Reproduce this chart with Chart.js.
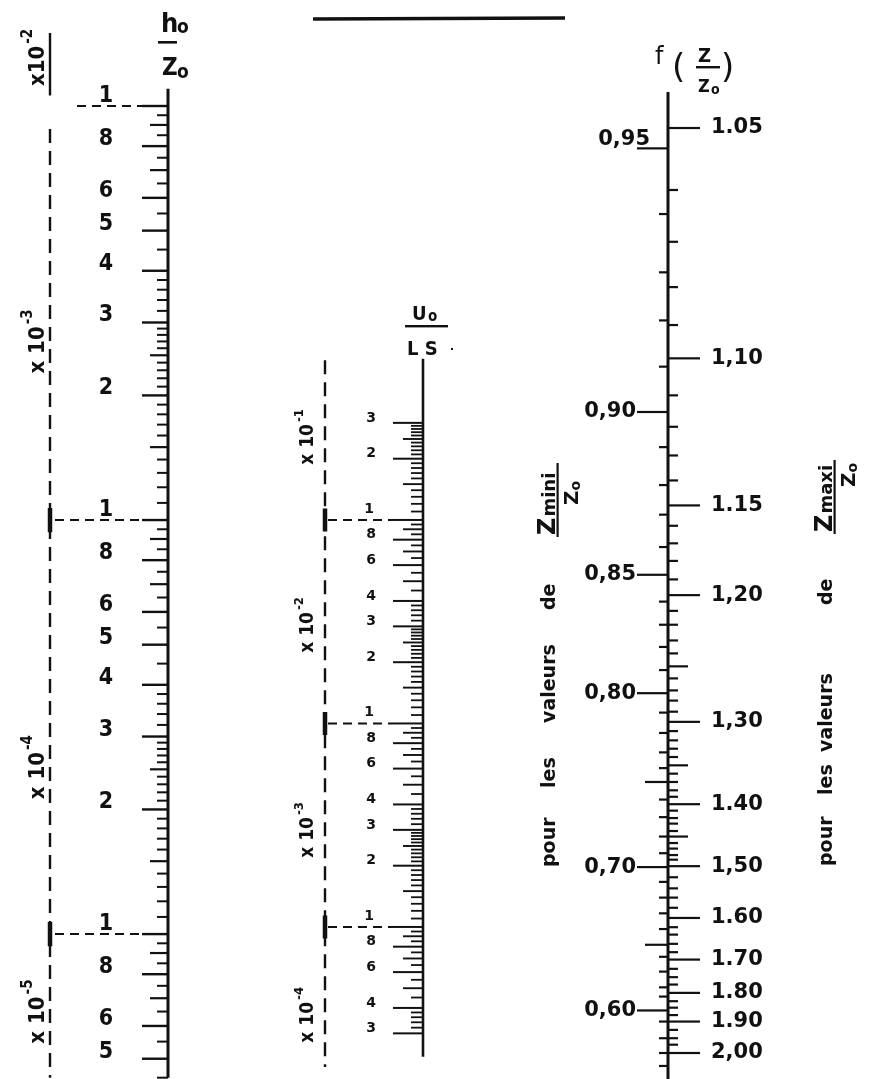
<!DOCTYPE html>
<html><head><meta charset="utf-8">
<script src="https://cdn.jsdelivr.net/npm/chart.js@4.4.1/dist/chart.umd.min.js"></script>
<style>html,body{margin:0;padding:0;background:#fff;overflow:hidden}canvas{display:block}</style>
</head><body><canvas id="c" width="883" height="1079"></canvas>
<script>
// ================= DATA =================
// --- h0/Z0 scale (logarithmic) ---
const hScaleRange   = [4.467e-5, 1.803e-2];
const hLineRange    = [4.5e-5, 1.1e-2];
const hDecades      = [1e-5, 1e-4, 1e-3];
const hTopValue     = 1e-2;
const hLabelValues  = [1e-2, 8e-3, 6e-3, 5e-3, 4e-3, 3e-3, 2e-3, 1e-3, 8e-4, 6e-4, 5e-4, 4e-4, 3e-4, 2e-4, 1e-4, 8e-5, 6e-5, 5e-5];
const hLabelTexts   = ['1','8','6','5','4','3','2','1','8','6','5','4','3','2','1','8','6','5'];
const hMajorMant    = [1, 2, 3, 4, 5, 6, 8];
const hMediumMant   = [1.5, 2.5, 7, 9];
const hMinorMant    = [1.1,1.2,1.3,1.4,1.6,1.7,1.8,1.9,2.1,2.2,2.3,2.4,2.6,2.7,2.8,2.9,3.2,3.4,3.6,3.8,4.5,5.5,6.5,7.5,8.5,9.5];
const hDecadeLines  = [1e-2, 1e-3, 1e-4];
const hGroupExps    = ['-2', '-3', '-4', '-5'];
const hGroupTexts   = ['x10', 'x 10', 'x 10', 'x 10'];
const hGroupAnchors = [1.31e-2, 2.7e-3, 2.53e-4, 6.5e-5];
const hBracketSolid = [1.5e-2, 1.06e-2];
const hBracketDash  = [8.8e-3, 4.5e-5];

// --- U0/LS scale (logarithmic) ---
const uScaleRange   = [1.79e-4, 35.9];
const uLineRange    = [2.3e-4, 0.62];
const uTickRange    = [3e-4, 0.3];
const uDecades      = [1e-4, 1e-3, 1e-2, 1e-1];
const uLabelValues  = [3e-1, 2e-1, 8e-2, 6e-2, 4e-2, 3e-2, 2e-2, 8e-3, 6e-3, 4e-3, 3e-3, 2e-3, 8e-4, 6e-4, 4e-4, 3e-4];
const uLabelTexts   = ['3','2','8','6','4','3','2','8','6','4','3','2','8','6','4','3'];
const uDecadeLines  = [1e-1, 1e-2, 1e-3];
const uMajorMant    = [1, 2, 3, 4, 6, 8];
const uMediumMant   = [1.5, 2.5, 5, 7, 9];
const uMinorMant    = [1.1,1.2,1.3,1.4,1.6,1.7,1.8,1.9,2.1,2.2,2.3,2.4,2.6,2.7,2.8,2.9,3.2,3.4,3.6,3.8,4.5,5.5,6.5,7.5,8.5,9.5];
const uGroupExps    = ['-1', '-2', '-3', '-4'];
const uGroupAnchors = [0.256, 0.0305, 3.0e-3, 3.7e-4];
const uBracketDash  = [0.61, 2.05e-4];

// --- f(Z/Z0) scale (read positions, relative units) ---
const fScaleRange   = [-0.1384, 1.0281];
const fLineRange    = [-0.039, 1.028];
const zMiniValues   = [0.95,0.94,0.93,0.92,0.91,0.90,0.89,0.88,0.87,0.86,0.85,0.84,0.83,0.82,0.81,0.80,0.79,0.78,0.77,0.76,0.75,0.74,0.73,0.72,0.71,0.70,0.69,0.68,0.67,0.66,0.65,0.64,0.63,0.62,0.61,0.60,0.59,0.58,0.57,0.56];
const zMiniF        = [0.022,0.093,0.156,0.208,0.258,0.307,0.345,0.386,0.418,0.453,0.483,0.512,0.537,0.561,0.586,0.611,0.632,0.654,0.675,0.692,0.707,0.726,0.745,0.766,0.784,0.799,0.815,0.832,0.849,0.866,0.883,0.896,0.912,0.929,0.939,0.954,0.966,0.984,1.000,1.014];
const zMiniLabelValues = [0.95, 0.90, 0.85, 0.80, 0.70, 0.60];
const zMiniLabelTexts  = ['0,95','0,90','0,85','0,80','0,70','0,60'];
const zMiniMedium      = [0.75, 0.65];
const zMaxiValues   = [1.05,1.06,1.07,1.08,1.09,1.10,1.11,1.12,1.13,1.14,1.15,1.16,1.17,1.18,1.19,1.20,1.21,1.22,1.23,1.24,1.25,1.26,1.27,1.28,1.29,1.30,1.31,1.32,1.33,1.34,1.35,1.36,1.37,1.38,1.39,1.40,1.41,1.42,1.43,1.44,1.45,1.46,1.47,1.48,1.49,1.50,1.52,1.54,1.56,1.58,1.60,1.62,1.64,1.66,1.68,1.70,1.725,1.75,1.775,1.80,1.825,1.85,1.875,1.90,1.925,1.95,1.975,2.00];
const zMaxiF        = [0.000,0.067,0.123,0.172,0.213,0.249,0.289,0.323,0.354,0.381,0.408,0.430,0.449,0.468,0.488,0.505,0.522,0.537,0.554,0.568,0.582,0.595,0.608,0.619,0.631,0.642,0.652,0.662,0.671,0.680,0.689,0.698,0.707,0.716,0.723,0.731,0.738,0.746,0.752,0.760,0.766,0.773,0.779,0.786,0.791,0.798,0.810,0.822,0.832,0.843,0.854,0.864,0.872,0.882,0.891,0.899,0.909,0.918,0.926,0.935,0.944,0.951,0.959,0.966,0.975,0.984,0.991,1.000];
const zMaxiLabelValues = [1.05,1.10,1.15,1.20,1.30,1.40,1.50,1.60,1.70,1.80,1.90,2.00];
const zMaxiLabelTexts  = ['1.05','1,10','1.15','1,20','1,30','1.40','1,50','1.60','1.70','1.80','1.90','2,00'];
const zMaxiMedium      = [1.25, 1.35, 1.45];

// ================= LAYOUT / STYLE =================
const INK = '#111';
const AX = {h: 168, u: 423, f: 668};       // x of each scale line
const BR = {h: 50, u: 325};                 // x of bracket lines
const FONT = '"DejaVu Sans", "Liberation Sans", sans-serif';
const FONTC = '"DejaVu Sans Condensed", "DejaVu Sans", sans-serif';
const MINI_TEXT_RAISE = {'0,95': 9};        // label drawn above its tick

function build(decades, mants, lo, hi) {
  const out = [];
  decades.forEach(d => mants.forEach(m => { const v = m * d; if (v >= lo * 0.9999 && v <= hi * 1.0001) out.push(v); }));
  return out;
}
const hMajor  = build(hDecades, hMajorMant, hLineRange[0], hTopValue).concat([hTopValue]);
const hMedium = build(hDecades, hMediumMant, hLineRange[0], hTopValue);
const hMinor  = build(hDecades, hMinorMant, hLineRange[0], hTopValue);
const uMajor  = build(uDecades, uMajorMant, uTickRange[0], uTickRange[1]);
const uMedium = build(uDecades, uMediumMant, uTickRange[0], uTickRange[1]);
const uMinor  = build(uDecades, uMinorMant, uTickRange[0], uTickRange[1]);

const fOf = (vals, fs, v) => fs[vals.findIndex(x => Math.abs(x - v) < 1e-6)];
const miniLab = zMiniValues.filter(v => zMiniLabelValues.some(x => Math.abs(x - v) < 1e-6));
const miniMed = zMiniValues.filter(v => zMiniMedium.some(x => Math.abs(x - v) < 1e-6));
const miniMin = zMiniValues.filter(v => !miniLab.includes(v) && !miniMed.includes(v));
const maxiLab = zMaxiValues.filter(v => zMaxiLabelValues.some(x => Math.abs(x - v) < 1e-6));
const maxiMed = zMaxiValues.filter(v => zMaxiMedium.some(x => Math.abs(x - v) < 1e-6));
const maxiMin = zMaxiValues.filter(v => !maxiLab.includes(v) && !maxiMed.includes(v));

function ticks(id, ax, pts, len, side, w) {
  return {yAxisID: id, xAxisID: 'x', data: pts.map(y => ({x: ax + side * len / 2, y})),
    showLine: false, pointStyle: 'line', pointRadius: len / 2, pointHoverRadius: len / 2,
    pointBorderWidth: w, pointHoverBorderWidth: w, pointBorderColor: INK, pointBackgroundColor: INK};
}
function seg(id, pts, w, dash) {
  return {yAxisID: id, xAxisID: 'x', data: pts, showLine: true, borderColor: INK, borderWidth: w,
    borderDash: dash || [], pointRadius: 0, pointHoverRadius: 0, tension: 0, borderCapStyle: 'butt'};
}

const datasets = [];
// main scale lines
datasets.push(seg('yH', [{x: AX.h, y: hLineRange[1]}, {x: AX.h, y: hLineRange[0]}], 3));
datasets.push(seg('yU', [{x: AX.u, y: uLineRange[1]}, {x: AX.u, y: uLineRange[0]}], 2.6));
datasets.push(seg('yF', [{x: AX.f, y: fLineRange[0]}, {x: AX.f, y: fLineRange[1]}], 3));
// h ticks
datasets.push(ticks('yH', AX.h, hMajor, 26, -1, 2.4));
datasets.push(ticks('yH', AX.h, hMedium, 18, -1, 2.2));
datasets.push(ticks('yH', AX.h, hMinor, 11, -1, 2));
// u ticks
datasets.push(ticks('yU', AX.u, uMajor, 30, -1, 2));
datasets.push(ticks('yU', AX.u, uMedium, 20, -1, 1.9));
datasets.push(ticks('yU', AX.u, uMinor, 12, -1, 1.8));
// f ticks (mini on left side, maxi on right side)
datasets.push(ticks('yF', AX.f, miniLab.map(v => fOf(zMiniValues, zMiniF, v)), 31, -1, 2.2));
datasets.push(ticks('yF', AX.f, miniMed.map(v => fOf(zMiniValues, zMiniF, v)), 23, -1, 2.2));
datasets.push(ticks('yF', AX.f, miniMin.map(v => fOf(zMiniValues, zMiniF, v)), 9, -1, 2.2));
datasets.push(ticks('yF', AX.f, maxiLab.map(v => fOf(zMaxiValues, zMaxiF, v)), 32, 1, 2.2));
datasets.push(ticks('yF', AX.f, maxiMed.map(v => fOf(zMaxiValues, zMaxiF, v)), 20, 1, 2.2));
datasets.push(ticks('yF', AX.f, maxiMin.map(v => fOf(zMaxiValues, zMaxiF, v)), 10, 1, 2.2));
// decade dashed leaders
hDecadeLines.forEach((d, i) => datasets.push(seg('yH', [{x: i === 0 ? 77 : 55, y: d}, {x: AX.h - 26, y: d}], 2, [9, 6])));
uDecadeLines.forEach(d => datasets.push(seg('yU', [{x: 328, y: d}, {x: AX.u - 30, y: d}], 2, [9, 6])));
// brackets
datasets.push(seg('yH', [{x: BR.h, y: hBracketSolid[0]}, {x: BR.h, y: hBracketSolid[1]}], 2.4));
datasets.push(seg('yH', [{x: BR.h, y: hBracketDash[0]}, {x: BR.h, y: hBracketDash[1]}], 2.4, [14, 8]));
[1e-3, 1e-4].forEach(d => datasets.push(seg('yH', [{x: BR.h, y: d * 1.07}, {x: BR.h, y: d / 1.07}], 4.5)));
datasets.push(seg('yU', [{x: BR.u, y: uBracketDash[0]}, {x: BR.u, y: uBracketDash[1]}], 2.4, [14, 8]));
uDecadeLines.forEach(d => datasets.push(seg('yU', [{x: BR.u, y: d * 1.14}, {x: BR.u, y: d / 1.14}], 4.5)));

// ================= TEXT PLUGIN =================
function rotParts(ctx, x, y, parts) {
  ctx.save(); ctx.translate(x, y); ctx.rotate(-Math.PI / 2);
  ctx.textAlign = 'left'; ctx.textBaseline = 'alphabetic';
  let total = 0; const ws = parts.map(p => { ctx.font = p.font; const w = ctx.measureText(p.t).width + (p.dx || 0); total += w; return w; });
  let cx = -total / 2;
  parts.forEach((p, i) => { ctx.font = p.font; ctx.fillText(p.t, cx + (p.dx || 0), p.dy || 0); cx += ws[i]; });
  ctx.restore();
}
function sideBlock(ctx, x, yStart, wordPos, numAt, sub, denAt, barFrom, barTo) {
  ctx.save(); ctx.translate(x, yStart); ctx.rotate(-Math.PI / 2);
  ctx.textAlign = 'left'; ctx.textBaseline = 'alphabetic';
  ctx.font = 'bold 19px ' + FONT;
  ['pour', 'les', 'valeurs', 'de'].forEach((w, i) => ctx.fillText(w, wordPos[i], 0));
  ctx.font = 'bold 24px ' + FONT; ctx.fillText('Z', numAt, 0);
  const zw = ctx.measureText('Z').width;
  ctx.font = 'bold 18px ' + FONT; ctx.fillText(sub, numAt + zw + 1, 0);
  ctx.fillRect(barFrom, 1.5, barTo - barFrom, 2.2);
  ctx.font = 'bold 20px ' + FONT; ctx.fillText('Z', denAt, 23);
  const zw2 = ctx.measureText('Z').width;
  ctx.font = 'bold 14px ' + FONT; ctx.fillText('o', denAt + zw2, 25);
  ctx.restore();
}

const textPlugin = {
  id: 'nomoText',
  afterDatasetsDraw(chart) {
    const ctx = chart.ctx, S = chart.scales;
    ctx.save(); ctx.fillStyle = INK; ctx.strokeStyle = INK;
    // left scale labels
    ctx.textAlign = 'center'; ctx.textBaseline = 'middle';
    ctx.font = 'bold 23px ' + FONTC;
    hLabelValues.forEach((v, i) => ctx.fillText(hLabelTexts[i], 106, S.yH.getPixelForValue(v) - (hLabelTexts[i] === '1' ? 10 : 7)));
    // middle scale labels
    ctx.font = 'bold 14px ' + FONT;
    uLabelValues.forEach((v, i) => ctx.fillText(uLabelTexts[i], 371, S.yU.getPixelForValue(v) - 5));
    uDecadeLines.forEach(v => ctx.fillText('1', 369, S.yU.getPixelForValue(v) - 11));
    // right scale labels
    ctx.font = 'bold 21px ' + FONT;
    ctx.textAlign = 'right';
    zMiniLabelValues.forEach((v, i) => {
      const t = zMiniLabelTexts[i], raise = MINI_TEXT_RAISE[t] || 0;
      ctx.fillText(t, AX.f - 32 + (raise ? 14 : 0), S.yF.getPixelForValue(fOf(zMiniValues, zMiniF, v)) - raise);
    });
    ctx.textAlign = 'left';
    zMaxiLabelValues.forEach((v, i) => ctx.fillText(zMaxiLabelTexts[i], AX.f + 43, S.yF.getPixelForValue(fOf(zMaxiValues, zMaxiF, v))));
    // group labels (x 10^n)
    hGroupAnchors.forEach((v, i) => rotParts(ctx, 44, S.yH.getPixelForValue(v), [
      {t: hGroupTexts[i], font: 'bold 22px ' + FONTC}, {t: hGroupExps[i], font: 'bold 15px ' + FONTC, dy: -12, dx: 2}]));
    uGroupAnchors.forEach((v, i) => rotParts(ctx, 313, S.yU.getPixelForValue(v), [
      {t: 'x 10', font: 'bold 19px ' + FONTC}, {t: uGroupExps[i], font: 'bold 13px ' + FONTC, dy: -10, dx: 2}]));
    // headers: h0 / Z0
    ctx.textAlign = 'left'; ctx.textBaseline = 'alphabetic';
    ctx.font = 'bold 27px ' + FONTC; ctx.fillText('h', 161, 32);
    ctx.font = 'bold 19px ' + FONTC; ctx.fillText('o', 177, 33);
    ctx.fillRect(158, 41, 19, 2.6);
    ctx.font = 'bold 24px ' + FONTC; ctx.fillText('Z', 162, 75);
    ctx.font = 'bold 19px ' + FONTC; ctx.fillText('o', 177, 78);
    // U0 / L S
    ctx.font = 'bold 20px ' + FONTC; ctx.fillText('U', 412, 320);
    ctx.font = 'bold 15px ' + FONTC; ctx.fillText('o', 428, 321);
    ctx.fillRect(405, 325, 43, 2.4);
    ctx.font = 'bold 20px ' + FONTC; ctx.fillText('L S', 407, 355);
    ctx.fillRect(451, 348, 2, 2);
    // f(Z/Z0)
    ctx.font = '24px ' + FONT; ctx.fillText('f', 655, 64);
    ctx.font = '34px ' + FONT; ctx.fillText('(', 672, 78); ctx.fillText(')', 721, 78);
    ctx.font = 'bold 20px ' + FONTC; ctx.fillText('Z', 698, 62);
    ctx.fillRect(696, 66, 24, 2.4);
    ctx.font = 'bold 18px ' + FONTC; ctx.fillText('Z', 698, 92);
    ctx.font = 'bold 14px ' + FONTC; ctx.fillText('o', 711, 94);
    // side captions
    sideBlock(ctx, 555, 867, [0, 79, 144, 257], 332, 'mini', 362, 330, 404);
    sideBlock(ctx, 832, 866, [0, 71, 114, 261], 334, 'maxi', 379, 332, 406);
    // top rule
    ctx.lineWidth = 3.5; ctx.beginPath(); ctx.moveTo(313, 19); ctx.lineTo(565, 18); ctx.stroke();
    ctx.restore();
  }
};

new Chart(document.getElementById('c'), {
  type: 'scatter',
  data: {datasets},
  options: {
    responsive: false, animation: false, events: [],
    layout: {padding: 0, autoPadding: false},
    plugins: {legend: {display: false}, tooltip: {enabled: false}},
    scales: {
      x:  {axis: 'x', type: 'linear', min: 0, max: 883, display: false, bounds: 'data'},
      yH: {axis: 'y', type: 'logarithmic', min: hScaleRange[0], max: hScaleRange[1], display: false, bounds: 'data'},
      yU: {axis: 'y', type: 'logarithmic', min: uScaleRange[0], max: uScaleRange[1], display: false, bounds: 'data'},
      yF: {axis: 'y', type: 'linear', min: fScaleRange[0], max: fScaleRange[1], reverse: true, display: false, bounds: 'data'}
    }
  },
  plugins: [textPlugin]
});
</script>
</body></html>
